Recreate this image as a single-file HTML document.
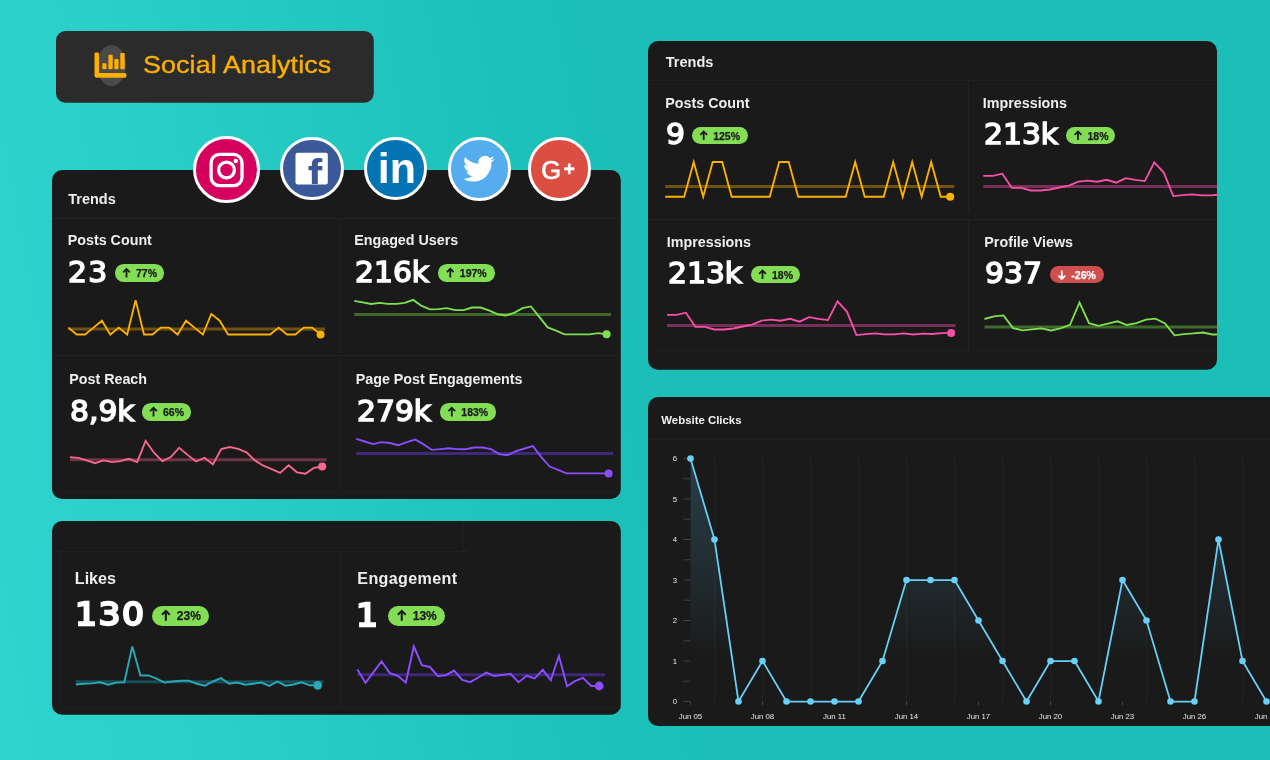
<!DOCTYPE html>
<html lang="en"><head><meta charset="utf-8"><title>Social Analytics</title>
<style>
html,body{margin:0;padding:0}
body{width:1270px;height:760px;overflow:hidden;position:relative;background:linear-gradient(80deg,#2fd4ce 0%,#2ad0c9 14%,#22c7c0 32%,#1cc1b9 44%,#1bbfb7 52%,#1bbfb7 100%);font-family:"Liberation Sans",sans-serif}
.p{position:absolute;background:#1a1a1a;border-radius:9px}
.t{position:absolute;white-space:nowrap}
.b{position:absolute}
.ov{position:absolute;left:0;top:0;pointer-events:none;overflow:visible}
.l{position:absolute;background:#222}
.ic{position:absolute;border-radius:50%;box-sizing:border-box;border:3.3px solid #fff}
</style></head><body>

<svg class="ov" width="1270" height="760"><rect x="56" y="31" width="317.8" height="71.8" rx="9.5" fill="#2b2b2b"/><rect x="52" y="170" width="568.8" height="328.9" rx="10" fill="#1a1a1a"/><rect x="52" y="521" width="568.8" height="193.8" rx="10" fill="#1a1a1a"/><rect x="648" y="41" width="569" height="328.8" rx="10" fill="#1a1a1a"/><rect x="648" y="397" width="640" height="328.9" rx="10" fill="#1a1a1a"/></svg>
<div class="b" style="left:97.3px;top:44.6px;width:29px;height:41px;border-radius:50%;background:#4a4a4a"></div>
<svg class="ov" width="1270" height="760"><g fill="#fcb000"><path d="M94.5 53.9a1.4 1.4 0 0 1 1.4-1.4h1.7a1.4 1.4 0 0 1 1.4 1.4V73H124.9a1.5 1.5 0 0 1 1.5 1.5v1.8a1.5 1.5 0 0 1-1.5 1.5H96.7a2.2 2.2 0 0 1-2.2-2.2Z"/><rect x="102.3" y="63.2" width="4.3" height="6" rx="0.9"/><rect x="108.4" y="54.8" width="4.3" height="14.4" rx="0.9"/><rect x="114.3" y="59.1" width="4.3" height="10.1" rx="0.9"/><rect x="120.3" y="52.9" width="4.4" height="16.3" rx="0.9"/></g></svg>
<div class="t" style="left:142.70px;top:52.61px;font-size:24.2px;line-height:24.2px;font-weight:normal;color:#fcb000;font-family:'Liberation Sans', sans-serif;letter-spacing:0.1px;-webkit-text-stroke:0.35px #fcb000;transform:scaleX(1.11);transform-origin:0 50%;">Social Analytics</div>
<div class="l" style="left:52px;top:217.5px;width:569px;height:1px"></div>
<div class="l" style="left:52px;top:354.5px;width:569px;height:1px"></div>
<div class="l" style="left:339.6px;top:218px;width:1px;height:134.5px"></div>
<div class="l" style="left:340.4px;top:357px;width:1px;height:134px"></div>
<div class="l" style="left:58px;top:491.5px;width:562px;height:1px;background:#1f1f1f"></div>
<div class="t" style="left:68.20px;top:191.53px;font-size:14.5px;line-height:14.5px;font-weight:bold;color:#eee;font-family:'Liberation Sans', sans-serif;">Trends</div>
<div class="t" style="left:67.70px;top:233.10px;font-size:14.3px;line-height:14.3px;font-weight:bold;color:#eee;font-family:'Liberation Sans', sans-serif;">Posts Count</div>
<div class="t" style="left:68.20px;top:258.25px;font-size:28.65px;line-height:28.65px;font-weight:normal;color:#ffffff;font-family:'DejaVu Sans', 'Liberation Sans', sans-serif;letter-spacing:1.2px;-webkit-text-stroke:1.5px #fff;transform:scaleX(1.04);transform-origin:0 50%;">23</div>
<div class="b" style="left:114.5px;top:264.3px;width:49.2px;height:17.5px;border-radius:8.8px;background:#83de56"></div>
<svg class="ov" width="1270" height="760"><path d="M126.50 277.50V268.90M123.10 272.30L126.50 268.90L129.90 272.30" fill="none" stroke="#1a1a1a" stroke-width="1.80" stroke-linejoin="miter"/></svg>
<div class="t" style="left:136.00px;top:268.21px;font-size:10.5px;line-height:10.5px;font-weight:bold;color:#1a1a1a;font-family:'Liberation Sans', sans-serif;-webkit-text-stroke:0.25px #1a1a1a;">77%</div>
<div class="t" style="left:354.20px;top:233.10px;font-size:14.3px;line-height:14.3px;font-weight:bold;color:#eee;font-family:'Liberation Sans', sans-serif;">Engaged Users</div>
<div class="t" style="left:355.00px;top:258.25px;font-size:28.65px;line-height:28.65px;font-weight:normal;color:#ffffff;font-family:'DejaVu Sans', 'Liberation Sans', sans-serif;-webkit-text-stroke:1.5px #fff;transform:scaleX(1.04);transform-origin:0 50%;">216k</div>
<div class="b" style="left:438.3px;top:264.2px;width:56.3px;height:17.5px;border-radius:8.8px;background:#83de56"></div>
<svg class="ov" width="1270" height="760"><path d="M450.30 277.40V268.80M446.90 272.20L450.30 268.80L453.70 272.20" fill="none" stroke="#1a1a1a" stroke-width="1.80" stroke-linejoin="miter"/></svg>
<div class="t" style="left:459.80px;top:268.11px;font-size:10.5px;line-height:10.5px;font-weight:bold;color:#1a1a1a;font-family:'Liberation Sans', sans-serif;-webkit-text-stroke:0.25px #1a1a1a;">197%</div>
<div class="t" style="left:69.20px;top:372.10px;font-size:14.3px;line-height:14.3px;font-weight:bold;color:#eee;font-family:'Liberation Sans', sans-serif;">Post Reach</div>
<div class="t" style="left:69.50px;top:397.25px;font-size:28.65px;line-height:28.65px;font-weight:normal;color:#ffffff;font-family:'DejaVu Sans', 'Liberation Sans', sans-serif;-webkit-text-stroke:1.5px #fff;transform:scaleX(1.04);transform-origin:0 50%;">8,9k</div>
<div class="b" style="left:141.5px;top:403.2px;width:49.2px;height:17.5px;border-radius:8.8px;background:#83de56"></div>
<svg class="ov" width="1270" height="760"><path d="M153.50 416.40V407.80M150.10 411.20L153.50 407.80L156.90 411.20" fill="none" stroke="#1a1a1a" stroke-width="1.80" stroke-linejoin="miter"/></svg>
<div class="t" style="left:163.00px;top:407.11px;font-size:10.5px;line-height:10.5px;font-weight:bold;color:#1a1a1a;font-family:'Liberation Sans', sans-serif;-webkit-text-stroke:0.25px #1a1a1a;">66%</div>
<div class="t" style="left:355.70px;top:372.10px;font-size:14.3px;line-height:14.3px;font-weight:bold;color:#eee;font-family:'Liberation Sans', sans-serif;">Page Post Engagements</div>
<div class="t" style="left:356.50px;top:397.25px;font-size:28.65px;line-height:28.65px;font-weight:normal;color:#ffffff;font-family:'DejaVu Sans', 'Liberation Sans', sans-serif;-webkit-text-stroke:1.5px #fff;transform:scaleX(1.04);transform-origin:0 50%;">279k</div>
<div class="b" style="left:439.8px;top:403.2px;width:56.3px;height:17.5px;border-radius:8.8px;background:#83de56"></div>
<svg class="ov" width="1270" height="760"><path d="M451.80 416.40V407.80M448.40 411.20L451.80 407.80L455.20 411.20" fill="none" stroke="#1a1a1a" stroke-width="1.80" stroke-linejoin="miter"/></svg>
<div class="t" style="left:461.30px;top:407.11px;font-size:10.5px;line-height:10.5px;font-weight:bold;color:#1a1a1a;font-family:'Liberation Sans', sans-serif;-webkit-text-stroke:0.25px #1a1a1a;">183%</div>
<svg class="ov" width="1270" height="760">
<line x1="68.3" y1="329.1" x2="325.0" y2="329.1" stroke="#6f5212" stroke-width="3"/>
<polyline points="68.3,327.6 76.7,334.5 85.1,334.5 93.5,327.6 101.9,320.7 110.3,334.5 118.8,327.6 127.2,334.5 135.6,300.1 144.0,334.5 152.4,334.5 160.8,327.6 169.2,327.6 177.6,334.5 186.0,320.7 194.4,327.6 202.9,334.5 211.3,313.9 219.7,320.7 228.1,334.5 236.5,334.5 244.9,334.5 253.3,334.5 261.7,334.5 270.1,334.5 278.6,327.6 287.0,334.5 295.4,334.5 303.8,327.6 312.2,327.6 320.6,334.5" fill="none" stroke="#fcb000" stroke-width="1.85" stroke-linejoin="miter" stroke-linecap="butt"/>
<circle cx="320.6" cy="334.5" r="4" fill="#fcb000"/>
<line x1="354.3" y1="314.4" x2="611.0" y2="314.4" stroke="#3f6a2b" stroke-width="3"/>
<polyline points="354.3,300.8 362.7,302.4 371.1,304.0 379.5,302.9 387.9,303.9 396.4,303.9 404.8,302.9 413.2,299.9 421.6,305.9 430.0,309.4 438.4,309.2 446.8,308.1 455.2,310.1 463.6,310.1 472.0,307.5 480.5,307.5 488.9,310.3 497.3,314.2 505.7,315.5 514.1,312.8 522.5,308.1 530.9,306.4 539.3,316.9 547.7,327.4 556.1,330.7 564.5,334.3 573.0,334.3 581.4,334.3 589.8,334.3 598.2,333.2 606.6,334.3" fill="none" stroke="#7fe04f" stroke-width="1.85" stroke-linejoin="miter" stroke-linecap="butt"/>
<circle cx="606.6" cy="334.3" r="4" fill="#7fe04f"/>
<line x1="69.9" y1="459.7" x2="326.7" y2="459.7" stroke="#6d3546" stroke-width="3"/>
<polyline points="69.9,457.1 78.3,457.9 86.7,460.4 95.1,463.2 103.5,460.4 112.0,462.1 120.4,461.2 128.8,458.8 137.2,462.1 145.6,440.9 154.0,452.7 162.4,461.2 170.8,457.1 179.2,447.7 187.6,454.9 196.1,461.5 204.5,457.7 212.9,464.3 221.3,449.1 229.7,447.0 238.1,448.8 246.5,452.4 254.9,460.4 263.3,465.7 271.7,469.2 280.1,472.9 288.6,465.2 297.0,472.3 305.4,473.7 313.8,467.9 322.2,466.5" fill="none" stroke="#f7688d" stroke-width="1.85" stroke-linejoin="miter" stroke-linecap="butt"/>
<circle cx="322.2" cy="466.5" r="4" fill="#f7688d"/>
<line x1="356.3" y1="453.5" x2="613.0" y2="453.5" stroke="#40287a" stroke-width="3"/>
<polyline points="356.3,438.9 364.7,441.5 373.1,444.1 381.5,442.2 389.9,443.0 398.4,445.2 406.8,442.2 415.2,439.5 423.6,444.4 432.0,449.9 440.4,449.2 448.8,448.3 457.2,449.1 465.6,449.2 474.0,447.5 482.5,447.5 490.9,449.1 499.3,454.1 507.7,455.2 516.1,451.1 524.5,448.5 532.9,446.1 541.3,457.1 549.7,466.5 558.1,469.8 566.5,473.4 575.0,473.4 583.4,473.4 591.8,473.4 600.2,473.4 608.6,473.4" fill="none" stroke="#8a4dff" stroke-width="1.85" stroke-linejoin="miter" stroke-linecap="butt"/>
<circle cx="608.6" cy="473.4" r="4" fill="#8a4dff"/>
</svg>
<div class="ic" style="left:193.0px;top:135.9px;width:67.0px;height:67.0px;background:#d6005f"></div>
<div class="ic" style="left:280.1px;top:136.8px;width:63.6px;height:63.6px;background:#3b5998"></div>
<div class="ic" style="left:364.4px;top:137.3px;width:62.6px;height:62.6px;background:#0274b3"></div>
<div class="ic" style="left:447.7px;top:137.4px;width:63.3px;height:63.3px;background:#55acee"></div>
<div class="ic" style="left:527.9px;top:137.4px;width:63.3px;height:63.3px;background:#dc4e41"></div>
<svg class="ov" width="1270" height="760"><rect x="211.1" y="154.4" width="30.9" height="31.3" rx="8.5" fill="none" stroke="#fff" stroke-width="3.3"/><circle cx="226.5" cy="170" r="7.9" fill="none" stroke="#fff" stroke-width="3.3"/><circle cx="235.8" cy="161" r="2.2" fill="#fff"/><rect x="295.5" y="152.7" width="32.3" height="31.7" rx="2" fill="#fff"/></svg>
<div class="b" style="left:295.5px;top:152.7px;width:32.3px;height:31.7px;overflow:hidden"><div class="t" style="left:12.2px;top:1px;font-size:43.5px;line-height:43.5px;font-weight:bold;color:#3b5998">f</div></div>
<div class="t" style="left:377.8px;top:147px;font-size:43px;line-height:43px;font-weight:bold;color:#fff">in</div>
<svg class="ov" width="1270" height="760"><g transform="translate(463.0,152.9) scale(1.32)"><path fill="#fff" d="M23.953 4.57a10 10 0 01-2.825.775 4.958 4.958 0 002.163-2.723c-.951.555-2.005.959-3.127 1.184a4.92 4.92 0 00-8.384 4.482C7.69 8.095 4.067 6.13 1.64 3.162a4.822 4.822 0 00-.666 2.475c0 1.71.87 3.213 2.188 4.096a4.904 4.904 0 01-2.228-.616v.06a4.923 4.923 0 003.946 4.827 4.996 4.996 0 01-2.212.085 4.936 4.936 0 004.604 3.417 9.867 9.867 0 01-6.102 2.105c-.39 0-.779-.023-1.17-.067a13.995 13.995 0 007.557 2.209c9.053 0 13.998-7.496 13.998-13.985 0-.21 0-.42-.015-.63A9.935 9.935 0 0024 4.59z"/></g></svg>
<div class="t" style="left:541.3px;top:157.9px;font-size:25.4px;line-height:25.4px;font-weight:normal;color:#fff;-webkit-text-stroke:0.7px #fff">G</div>
<div class="t" style="left:563.4px;top:160.1px;font-size:19.5px;line-height:19.5px;font-weight:bold;color:#fff;-webkit-text-stroke:0.4px #fff">+</div>
<div class="l" style="left:58.5px;top:551px;width:409px;height:1px"></div>
<div class="l" style="left:58.5px;top:551px;width:1px;height:156px;background:#202020"></div>
<div class="l" style="left:340.5px;top:551px;width:1px;height:156px"></div>
<div class="l" style="left:462.5px;top:521px;width:1px;height:30px;background:#1f1f1f"></div>
<div class="l" style="left:58.5px;top:707.2px;width:562px;height:1px;background:#202020"></div>
<div class="t" style="left:74.80px;top:569.97px;font-size:16.1px;line-height:16.1px;font-weight:bold;color:#eee;font-family:'Liberation Sans', sans-serif;">Likes</div>
<div class="t" style="left:75.00px;top:598.40px;font-size:32.6px;line-height:32.6px;font-weight:normal;color:#ffffff;font-family:'DejaVu Sans', 'Liberation Sans', sans-serif;letter-spacing:1.4px;-webkit-text-stroke:2.3px #fff;transform:scaleX(1.06);transform-origin:0 50%;">130</div>
<div class="b" style="left:152.0px;top:605.6px;width:57.4px;height:20.2px;border-radius:10.1px;background:#83de56"></div>
<svg class="ov" width="1270" height="760"><path d="M165.85 620.84V610.91M161.93 614.83L165.85 610.91L169.78 614.83" fill="none" stroke="#1a1a1a" stroke-width="2.08" stroke-linejoin="miter"/></svg>
<div class="t" style="left:176.82px;top:610.22px;font-size:12px;line-height:12px;font-weight:bold;color:#1a1a1a;font-family:'Liberation Sans', sans-serif;-webkit-text-stroke:0.25px #1a1a1a;">23%</div>
<div class="t" style="left:357.30px;top:570.17px;font-size:16.1px;line-height:16.1px;font-weight:bold;color:#eee;font-family:'Liberation Sans', sans-serif;letter-spacing:0.36px;">Engagement</div>
<div class="t" style="left:356.00px;top:598.60px;font-size:32.6px;line-height:32.6px;font-weight:normal;color:#ffffff;font-family:'DejaVu Sans', 'Liberation Sans', sans-serif;-webkit-text-stroke:2.3px #fff;transform:scaleX(1.06);transform-origin:0 50%;">1</div>
<div class="b" style="left:387.9px;top:605.6px;width:57.4px;height:20.2px;border-radius:10.1px;background:#83de56"></div>
<svg class="ov" width="1270" height="760"><path d="M401.75 620.84V610.91M397.83 614.83L401.75 610.91L405.68 614.83" fill="none" stroke="#1a1a1a" stroke-width="2.08" stroke-linejoin="miter"/></svg>
<div class="t" style="left:412.72px;top:610.22px;font-size:12px;line-height:12px;font-weight:bold;color:#1a1a1a;font-family:'Liberation Sans', sans-serif;-webkit-text-stroke:0.25px #1a1a1a;">13%</div>
<svg class="ov" width="1270" height="760">
<line x1="75.9" y1="681.7" x2="323.4" y2="681.7" stroke="#174e56" stroke-width="3"/>
<polyline points="75.9,684.5 84.0,683.7 92.0,683.4 100.1,682.2 108.1,684.8 116.2,682.6 124.3,682.3 132.3,646.4 140.4,675.4 148.4,675.4 156.5,678.7 164.6,682.6 172.6,681.5 180.7,680.7 188.7,680.7 196.8,683.7 204.9,685.7 212.9,681.5 221.0,678.2 229.0,683.7 237.1,682.6 245.2,684.8 253.2,683.7 261.3,682.6 269.3,685.9 277.4,681.5 285.5,685.7 293.5,684.5 301.6,682.3 309.6,685.3 317.7,685.3" fill="none" stroke="#2aa7b8" stroke-width="1.95" stroke-linejoin="miter" stroke-linecap="butt"/>
<circle cx="317.7" cy="685.3" r="4.4" fill="#2aa7b8"/>
<line x1="357.4" y1="674.7" x2="604.9" y2="674.7" stroke="#40287a" stroke-width="3"/>
<polyline points="357.4,669.5 365.5,682.8 373.5,672.2 381.6,661.5 389.6,672.9 397.7,675.8 405.8,682.4 413.8,646.5 421.9,665.1 429.9,667.0 438.0,676.2 446.1,675.1 454.1,670.6 462.2,679.9 470.2,682.2 478.3,677.5 486.4,672.7 494.4,676.0 502.5,674.9 510.5,673.8 518.6,682.2 526.7,675.8 534.7,678.4 542.8,669.8 550.8,680.2 558.9,655.8 567.0,686.3 575.0,681.1 583.1,677.8 591.1,686.0 599.2,686.0" fill="none" stroke="#8a4dff" stroke-width="1.95" stroke-linejoin="miter" stroke-linecap="butt"/>
<circle cx="599.2" cy="686.0" r="4.4" fill="#8a4dff"/>
</svg>
<div class="l" style="left:648px;top:79.5px;width:569px;height:1px"></div>
<div class="l" style="left:648px;top:219px;width:569px;height:1px"></div>
<div class="l" style="left:968.3px;top:80px;width:1px;height:131.5px"></div>
<div class="l" style="left:968.3px;top:220px;width:1px;height:130px"></div>
<div class="l" style="left:655px;top:350px;width:562px;height:1px;background:#1f1f1f"></div>
<div class="t" style="left:665.80px;top:54.63px;font-size:14.5px;line-height:14.5px;font-weight:bold;color:#eee;font-family:'Liberation Sans', sans-serif;">Trends</div>
<div class="t" style="left:665.30px;top:95.70px;font-size:14.3px;line-height:14.3px;font-weight:bold;color:#eee;font-family:'Liberation Sans', sans-serif;">Posts Count</div>
<div class="t" style="left:666.30px;top:120.25px;font-size:28.65px;line-height:28.65px;font-weight:normal;color:#ffffff;font-family:'DejaVu Sans', 'Liberation Sans', sans-serif;-webkit-text-stroke:1.5px #fff;transform:scaleX(1.04);transform-origin:0 50%;">9</div>
<div class="b" style="left:691.7px;top:126.8px;width:56.7px;height:17.5px;border-radius:8.8px;background:#83de56"></div>
<svg class="ov" width="1270" height="760"><path d="M703.70 140.00V131.40M700.30 134.80L703.70 131.40L707.10 134.80" fill="none" stroke="#1a1a1a" stroke-width="1.80" stroke-linejoin="miter"/></svg>
<div class="t" style="left:713.20px;top:130.71px;font-size:10.5px;line-height:10.5px;font-weight:bold;color:#1a1a1a;font-family:'Liberation Sans', sans-serif;-webkit-text-stroke:0.25px #1a1a1a;">125%</div>
<div class="t" style="left:982.80px;top:95.70px;font-size:14.3px;line-height:14.3px;font-weight:bold;color:#eee;font-family:'Liberation Sans', sans-serif;">Impressions</div>
<div class="t" style="left:983.50px;top:120.25px;font-size:28.65px;line-height:28.65px;font-weight:normal;color:#ffffff;font-family:'DejaVu Sans', 'Liberation Sans', sans-serif;-webkit-text-stroke:1.5px #fff;transform:scaleX(1.04);transform-origin:0 50%;">213k</div>
<div class="b" style="left:1066.0px;top:126.8px;width:49.2px;height:17.5px;border-radius:8.8px;background:#83de56"></div>
<svg class="ov" width="1270" height="760"><path d="M1078.00 140.00V131.40M1074.60 134.80L1078.00 131.40L1081.40 134.80" fill="none" stroke="#1a1a1a" stroke-width="1.80" stroke-linejoin="miter"/></svg>
<div class="t" style="left:1087.50px;top:130.71px;font-size:10.5px;line-height:10.5px;font-weight:bold;color:#1a1a1a;font-family:'Liberation Sans', sans-serif;-webkit-text-stroke:0.25px #1a1a1a;">18%</div>
<div class="t" style="left:666.80px;top:234.70px;font-size:14.3px;line-height:14.3px;font-weight:bold;color:#eee;font-family:'Liberation Sans', sans-serif;">Impressions</div>
<div class="t" style="left:667.50px;top:259.25px;font-size:28.65px;line-height:28.65px;font-weight:normal;color:#ffffff;font-family:'DejaVu Sans', 'Liberation Sans', sans-serif;-webkit-text-stroke:1.5px #fff;transform:scaleX(1.04);transform-origin:0 50%;">213k</div>
<div class="b" style="left:750.5px;top:265.8px;width:49.2px;height:17.5px;border-radius:8.8px;background:#83de56"></div>
<svg class="ov" width="1270" height="760"><path d="M762.50 279.00V270.40M759.10 273.80L762.50 270.40L765.90 273.80" fill="none" stroke="#1a1a1a" stroke-width="1.80" stroke-linejoin="miter"/></svg>
<div class="t" style="left:772.00px;top:269.71px;font-size:10.5px;line-height:10.5px;font-weight:bold;color:#1a1a1a;font-family:'Liberation Sans', sans-serif;-webkit-text-stroke:0.25px #1a1a1a;">18%</div>
<div class="t" style="left:984.30px;top:234.70px;font-size:14.3px;line-height:14.3px;font-weight:bold;color:#eee;font-family:'Liberation Sans', sans-serif;">Profile Views</div>
<div class="t" style="left:985.00px;top:259.25px;font-size:28.65px;line-height:28.65px;font-weight:normal;color:#ffffff;font-family:'DejaVu Sans', 'Liberation Sans', sans-serif;-webkit-text-stroke:1.5px #fff;transform:scaleX(1.04);transform-origin:0 50%;">937</div>
<div class="b" style="left:1049.8px;top:265.8px;width:54.5px;height:17.5px;border-radius:8.8px;background:#cf4f4f"></div>
<svg class="ov" width="1270" height="760"><path d="M1061.80 270.40V279.00M1058.40 275.60L1061.80 279.00L1065.20 275.60" fill="none" stroke="#ffffff" stroke-width="1.80" stroke-linejoin="miter"/></svg>
<div class="t" style="left:1071.30px;top:269.71px;font-size:10.5px;line-height:10.5px;font-weight:bold;color:#ffffff;font-family:'Liberation Sans', sans-serif;-webkit-text-stroke:0.25px #ffffff;">-26%</div>
<svg class="ov" width="1270" height="760"><defs><clipPath id="cr1"><rect x="648" y="41" width="569" height="329"/></clipPath></defs><g clip-path="url(#cr1)">
<line x1="665.2" y1="186.4" x2="954.3" y2="186.4" stroke="#6f5212" stroke-width="3"/>
<polyline points="665.2,196.7 674.7,196.7 684.2,196.7 693.7,162.0 703.2,196.7 712.7,162.0 722.2,162.0 731.7,196.7 741.2,196.7 750.7,196.7 760.2,196.7 769.7,196.7 779.2,162.0 788.7,162.0 798.2,196.7 807.7,196.7 817.2,196.7 826.7,196.7 836.2,196.7 845.7,196.7 855.2,162.0 864.7,196.7 874.2,196.7 883.7,196.7 893.2,162.0 902.7,196.7 912.2,162.0 921.7,196.7 931.2,162.0 940.7,196.7 950.2,196.7" fill="none" stroke="#fcb000" stroke-width="1.85" stroke-linejoin="miter" stroke-linecap="butt"/>
<circle cx="950.2" cy="196.7" r="4" fill="#fcb000"/>
<line x1="983.3" y1="186.4" x2="1272.0" y2="186.4" stroke="#78305a" stroke-width="3"/>
<polyline points="983.3,175.9 992.8,175.9 1002.3,173.7 1011.8,187.8 1021.3,187.8 1030.8,190.5 1040.3,190.5 1049.8,189.5 1059.3,187.5 1068.8,185.6 1078.3,181.7 1087.8,180.6 1097.3,181.7 1106.8,179.8 1116.3,182.7 1125.8,178.1 1135.3,179.8 1144.8,181.1 1154.3,162.4 1163.8,172.6 1173.3,196.1 1182.8,195.2 1192.3,194.4 1201.8,195.4 1211.3,195.4 1220.8,194.4 1230.3,195.5 1239.8,194.6 1249.3,195.0 1258.8,194.1 1268.3,193.9" fill="none" stroke="#f84fa8" stroke-width="1.85" stroke-linejoin="miter" stroke-linecap="butt"/>
<circle cx="1268.3" cy="193.9" r="4" fill="#f84fa8"/>
<line x1="667.0" y1="325.4" x2="955.5" y2="325.4" stroke="#78305a" stroke-width="3"/>
<polyline points="667.0,314.9 676.5,314.9 685.9,312.7 695.4,326.8 704.9,326.8 714.4,329.5 723.8,329.5 733.3,328.5 742.8,326.5 752.2,324.6 761.7,320.7 771.2,319.6 780.6,320.7 790.1,318.8 799.6,321.7 809.0,317.1 818.5,318.8 828.0,320.1 837.5,301.4 846.9,311.6 856.4,335.1 865.9,334.2 875.3,333.4 884.8,334.4 894.3,334.4 903.8,333.4 913.2,334.5 922.7,333.6 932.2,334.0 941.6,333.1 951.1,332.9" fill="none" stroke="#f84fa8" stroke-width="1.85" stroke-linejoin="miter" stroke-linecap="butt"/>
<circle cx="951.1" cy="332.9" r="4" fill="#f84fa8"/>
<line x1="984.5" y1="327.0" x2="1274.0" y2="327.0" stroke="#3f6a2b" stroke-width="3"/>
<polyline points="984.5,319.0 994.0,316.3 1003.5,315.4 1013.0,328.1 1022.5,330.3 1032.0,329.4 1041.5,328.4 1051.0,330.5 1060.5,328.3 1070.0,324.8 1079.5,302.5 1089.0,323.2 1098.5,325.9 1108.0,323.7 1117.5,321.3 1127.0,325.0 1136.5,323.2 1146.0,319.6 1155.5,318.7 1165.0,323.4 1174.5,335.3 1184.0,334.2 1193.5,333.4 1203.0,332.5 1212.5,334.5 1222.0,334.5 1231.5,334.0 1241.0,334.3 1250.5,333.8 1260.0,334.2 1269.5,334.0" fill="none" stroke="#7fe04f" stroke-width="1.85" stroke-linejoin="miter" stroke-linecap="butt"/>
<circle cx="1269.5" cy="334.0" r="4" fill="#7fe04f"/>
</g></svg>
<div class="l" style="left:648px;top:439.3px;width:622px;height:1px;background:#202020"></div>
<div class="t" style="left:661.30px;top:414.75px;font-size:11.4px;line-height:11.4px;font-weight:bold;color:#f2f2f2;font-family:'Liberation Sans', sans-serif;">Website Clicks</div>
<svg class="ov" width="1270" height="760"><defs><linearGradient id="ag" gradientUnits="userSpaceOnUse" x1="0" y1="458" x2="0" y2="702"><stop offset="0" stop-color="#5ecbf5" stop-opacity="0.21"/><stop offset="0.45" stop-color="#5ecbf5" stop-opacity="0.10"/><stop offset="0.72" stop-color="#5ecbf5" stop-opacity="0.03"/><stop offset="0.80" stop-color="#5ecbf5" stop-opacity="0"/></linearGradient></defs>
<line x1="714.5" y1="458.5" x2="714.5" y2="701.5" stroke="#2b2b2b" stroke-width="0.8" stroke-dasharray="1.6 0.9"/>
<line x1="762.5" y1="458.5" x2="762.5" y2="701.5" stroke="#2b2b2b" stroke-width="0.8" stroke-dasharray="1.6 0.9"/>
<line x1="810.5" y1="458.5" x2="810.5" y2="701.5" stroke="#2b2b2b" stroke-width="0.8" stroke-dasharray="1.6 0.9"/>
<line x1="858.5" y1="458.5" x2="858.5" y2="701.5" stroke="#2b2b2b" stroke-width="0.8" stroke-dasharray="1.6 0.9"/>
<line x1="906.5" y1="458.5" x2="906.5" y2="701.5" stroke="#2b2b2b" stroke-width="0.8" stroke-dasharray="1.6 0.9"/>
<line x1="954.5" y1="458.5" x2="954.5" y2="701.5" stroke="#2b2b2b" stroke-width="0.8" stroke-dasharray="1.6 0.9"/>
<line x1="1002.5" y1="458.5" x2="1002.5" y2="701.5" stroke="#2b2b2b" stroke-width="0.8" stroke-dasharray="1.6 0.9"/>
<line x1="1050.5" y1="458.5" x2="1050.5" y2="701.5" stroke="#2b2b2b" stroke-width="0.8" stroke-dasharray="1.6 0.9"/>
<line x1="1098.5" y1="458.5" x2="1098.5" y2="701.5" stroke="#2b2b2b" stroke-width="0.8" stroke-dasharray="1.6 0.9"/>
<line x1="1146.5" y1="458.5" x2="1146.5" y2="701.5" stroke="#2b2b2b" stroke-width="0.8" stroke-dasharray="1.6 0.9"/>
<line x1="1194.5" y1="458.5" x2="1194.5" y2="701.5" stroke="#2b2b2b" stroke-width="0.8" stroke-dasharray="1.6 0.9"/>
<line x1="1242.5" y1="458.5" x2="1242.5" y2="701.5" stroke="#2b2b2b" stroke-width="0.8" stroke-dasharray="1.6 0.9"/>
<line x1="1290.5" y1="458.5" x2="1290.5" y2="701.5" stroke="#2b2b2b" stroke-width="0.8" stroke-dasharray="1.6 0.9"/>
<line x1="683.3" y1="701.5" x2="690.4" y2="701.5" stroke="#4a4a4a" stroke-width="0.8"/>
<line x1="683.3" y1="681.2" x2="690.4" y2="681.2" stroke="#4a4a4a" stroke-width="0.8"/>
<line x1="683.3" y1="661.0" x2="690.4" y2="661.0" stroke="#4a4a4a" stroke-width="0.8"/>
<line x1="683.3" y1="640.8" x2="690.4" y2="640.8" stroke="#4a4a4a" stroke-width="0.8"/>
<line x1="683.3" y1="620.5" x2="690.4" y2="620.5" stroke="#4a4a4a" stroke-width="0.8"/>
<line x1="683.3" y1="600.2" x2="690.4" y2="600.2" stroke="#4a4a4a" stroke-width="0.8"/>
<line x1="683.3" y1="580.0" x2="690.4" y2="580.0" stroke="#4a4a4a" stroke-width="0.8"/>
<line x1="683.3" y1="559.8" x2="690.4" y2="559.8" stroke="#4a4a4a" stroke-width="0.8"/>
<line x1="683.3" y1="539.5" x2="690.4" y2="539.5" stroke="#4a4a4a" stroke-width="0.8"/>
<line x1="683.3" y1="519.2" x2="690.4" y2="519.2" stroke="#4a4a4a" stroke-width="0.8"/>
<line x1="683.3" y1="499.0" x2="690.4" y2="499.0" stroke="#4a4a4a" stroke-width="0.8"/>
<line x1="683.3" y1="478.8" x2="690.4" y2="478.8" stroke="#4a4a4a" stroke-width="0.8"/>
<line x1="683.3" y1="458.5" x2="690.4" y2="458.5" stroke="#4a4a4a" stroke-width="0.8"/>
<line x1="690.4" y1="701.5" x2="690.4" y2="705" stroke="#4a4a4a" stroke-width="0.8"/>
<line x1="762.5" y1="701.5" x2="762.5" y2="705" stroke="#4a4a4a" stroke-width="0.8"/>
<line x1="834.5" y1="701.5" x2="834.5" y2="705" stroke="#4a4a4a" stroke-width="0.8"/>
<line x1="906.5" y1="701.5" x2="906.5" y2="705" stroke="#4a4a4a" stroke-width="0.8"/>
<line x1="978.5" y1="701.5" x2="978.5" y2="705" stroke="#4a4a4a" stroke-width="0.8"/>
<line x1="1050.5" y1="701.5" x2="1050.5" y2="705" stroke="#4a4a4a" stroke-width="0.8"/>
<line x1="1122.5" y1="701.5" x2="1122.5" y2="705" stroke="#4a4a4a" stroke-width="0.8"/>
<line x1="1194.5" y1="701.5" x2="1194.5" y2="705" stroke="#4a4a4a" stroke-width="0.8"/>
<line x1="1266.5" y1="701.5" x2="1266.5" y2="705" stroke="#4a4a4a" stroke-width="0.8"/>
<path d="M690.5 458.5 L714.5 539.5 L738.5 701.5 L762.5 661.0 L786.5 701.5 L810.5 701.5 L834.5 701.5 L858.5 701.5 L882.5 661.0 L906.5 580.0 L930.5 580.0 L954.5 580.0 L978.5 620.5 L1002.5 661.0 L1026.5 701.5 L1050.5 661.0 L1074.5 661.0 L1098.5 701.5 L1122.5 580.0 L1146.5 620.5 L1170.5 701.5 L1194.5 701.5 L1218.5 539.5 L1242.5 661.0 L1266.5 701.5 L1266.5 701.5 L690.5 701.5Z" fill="url(#ag)"/>
<polyline points="690.5,458.5 714.5,539.5 738.5,701.5 762.5,661.0 786.5,701.5 810.5,701.5 834.5,701.5 858.5,701.5 882.5,661.0 906.5,580.0 930.5,580.0 954.5,580.0 978.5,620.5 1002.5,661.0 1026.5,701.5 1050.5,661.0 1074.5,661.0 1098.5,701.5 1122.5,580.0 1146.5,620.5 1170.5,701.5 1194.5,701.5 1218.5,539.5 1242.5,661.0 1266.5,701.5" fill="none" stroke="#69d0f7" stroke-width="1.75" stroke-linejoin="round"/>
<circle cx="690.5" cy="458.5" r="3.3" fill="#69d0f7"/>
<circle cx="714.5" cy="539.5" r="3.3" fill="#69d0f7"/>
<circle cx="738.5" cy="701.5" r="3.3" fill="#69d0f7"/>
<circle cx="762.5" cy="661.0" r="3.3" fill="#69d0f7"/>
<circle cx="786.5" cy="701.5" r="3.3" fill="#69d0f7"/>
<circle cx="810.5" cy="701.5" r="3.3" fill="#69d0f7"/>
<circle cx="834.5" cy="701.5" r="3.3" fill="#69d0f7"/>
<circle cx="858.5" cy="701.5" r="3.3" fill="#69d0f7"/>
<circle cx="882.5" cy="661.0" r="3.3" fill="#69d0f7"/>
<circle cx="906.5" cy="580.0" r="3.3" fill="#69d0f7"/>
<circle cx="930.5" cy="580.0" r="3.3" fill="#69d0f7"/>
<circle cx="954.5" cy="580.0" r="3.3" fill="#69d0f7"/>
<circle cx="978.5" cy="620.5" r="3.3" fill="#69d0f7"/>
<circle cx="1002.5" cy="661.0" r="3.3" fill="#69d0f7"/>
<circle cx="1026.5" cy="701.5" r="3.3" fill="#69d0f7"/>
<circle cx="1050.5" cy="661.0" r="3.3" fill="#69d0f7"/>
<circle cx="1074.5" cy="661.0" r="3.3" fill="#69d0f7"/>
<circle cx="1098.5" cy="701.5" r="3.3" fill="#69d0f7"/>
<circle cx="1122.5" cy="580.0" r="3.3" fill="#69d0f7"/>
<circle cx="1146.5" cy="620.5" r="3.3" fill="#69d0f7"/>
<circle cx="1170.5" cy="701.5" r="3.3" fill="#69d0f7"/>
<circle cx="1194.5" cy="701.5" r="3.3" fill="#69d0f7"/>
<circle cx="1218.5" cy="539.5" r="3.3" fill="#69d0f7"/>
<circle cx="1242.5" cy="661.0" r="3.3" fill="#69d0f7"/>
<circle cx="1266.5" cy="701.5" r="3.3" fill="#69d0f7"/>
<text x="677" y="704.3" font-family="Liberation Sans, sans-serif" font-size="7.8" fill="#e6e6e6" text-anchor="end">0</text>
<text x="677" y="663.8" font-family="Liberation Sans, sans-serif" font-size="7.8" fill="#e6e6e6" text-anchor="end">1</text>
<text x="677" y="623.3" font-family="Liberation Sans, sans-serif" font-size="7.8" fill="#e6e6e6" text-anchor="end">2</text>
<text x="677" y="582.8" font-family="Liberation Sans, sans-serif" font-size="7.8" fill="#e6e6e6" text-anchor="end">3</text>
<text x="677" y="542.3" font-family="Liberation Sans, sans-serif" font-size="7.8" fill="#e6e6e6" text-anchor="end">4</text>
<text x="677" y="501.8" font-family="Liberation Sans, sans-serif" font-size="7.8" fill="#e6e6e6" text-anchor="end">5</text>
<text x="677" y="461.3" font-family="Liberation Sans, sans-serif" font-size="7.8" fill="#e6e6e6" text-anchor="end">6</text>
<text x="690.5" y="719.4" font-family="Liberation Sans, sans-serif" font-size="7.8" fill="#e6e6e6" text-anchor="middle">Jun 05</text>
<text x="762.5" y="719.4" font-family="Liberation Sans, sans-serif" font-size="7.8" fill="#e6e6e6" text-anchor="middle">Jun 08</text>
<text x="834.5" y="719.4" font-family="Liberation Sans, sans-serif" font-size="7.8" fill="#e6e6e6" text-anchor="middle">Jun 11</text>
<text x="906.5" y="719.4" font-family="Liberation Sans, sans-serif" font-size="7.8" fill="#e6e6e6" text-anchor="middle">Jun 14</text>
<text x="978.5" y="719.4" font-family="Liberation Sans, sans-serif" font-size="7.8" fill="#e6e6e6" text-anchor="middle">Jun 17</text>
<text x="1050.5" y="719.4" font-family="Liberation Sans, sans-serif" font-size="7.8" fill="#e6e6e6" text-anchor="middle">Jun 20</text>
<text x="1122.5" y="719.4" font-family="Liberation Sans, sans-serif" font-size="7.8" fill="#e6e6e6" text-anchor="middle">Jun 23</text>
<text x="1194.5" y="719.4" font-family="Liberation Sans, sans-serif" font-size="7.8" fill="#e6e6e6" text-anchor="middle">Jun 26</text>
<text x="1266.5" y="719.4" font-family="Liberation Sans, sans-serif" font-size="7.8" fill="#e6e6e6" text-anchor="middle">Jun 29</text>
</svg>
</body></html>
